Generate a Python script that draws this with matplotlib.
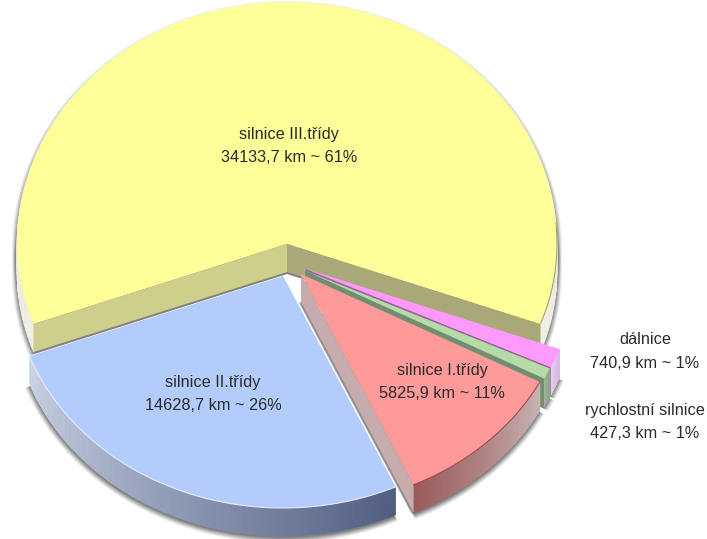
import numpy as np
import matplotlib
matplotlib.use("Agg")
import matplotlib.pyplot as plt
from matplotlib.collections import PolyCollection
from matplotlib.colors import to_rgb

# data, clockwise from the right end of the yellow slice
names = ["dálnice", "rychlostní silnice", "silnice I.třídy", "silnice II.třídy", "silnice III.třídy"]
km = [740.9, 427.3, 5825.9, 14628.7, 34133.7]
km_text = ["740,9", "427,3", "5825,9", "14628,7", "34133,7"]
pct = [1, 1, 11, 26, 61]

# look of the pie, in image pixels
RX, RY_BACK, RY_FRONT, DEPTH = 270, 242, 232, 28
START = -20.2
apex = [(306, 269), (305, 270.5), (301, 274), (283, 276), (287, 244)]
top_col = ["#ff99ff", "#b5dba6", "#ff9a9a", "#b4ccfc", "#ffff99"]
cut_col = ["#a060a0", "#6f8f70", "#c6acac", "#8090b0", "#a9a878"]
# wall gradient along the arc, lowest angle first
wall_col = [("#e8d0f0", "#d8b8e0"), ("#a0b8a0", "#88a888"), ("#9c5a5a", "#c8b4b4"),
            ("#ccd4e6", "#505e82"), ("#f0f0e4", "#f0f0e4")]
label_pos = [(645, 340), (645, 411), (442, 370), (213, 383), (289, 134)]
LINE_GAP = 23

# slice angles
sweeps = np.array(km) / sum(km) * 360
ends = START - np.concatenate(([0], np.cumsum(sweeps)[:-1]))
starts = ends - sweeps


def on_rim(i, angle, dy=0, grow=0):
    t = np.radians(angle)
    ry = np.where(np.sin(t) > 0, RY_BACK, RY_FRONT)
    x = apex[i][0] + (RX + grow) * np.cos(t)
    y = apex[i][1] + dy - (ry + grow) * np.sin(t)
    return np.column_stack([x, y])


def rim(i, a0, a1, dy=0, grow=0, n=200):
    return on_rim(i, np.linspace(a0, a1, n), dy, grow)


def slice_poly(i, dy=0, grow=0):
    pts = rim(i, starts[i], ends[i], dy, grow)
    return np.vstack([[apex[i][0], apex[i][1] + dy], pts])


def draw_wall(ax, i, z):
    # outer wall as thin quads so it can shade along the arc
    pts = rim(i, starts[i], ends[i], n=160)
    c0, c1 = np.array(to_rgb(wall_col[i][0])), np.array(to_rgb(wall_col[i][1]))
    polys, cols = [], []
    for k in range(len(pts) - 1):
        p, q = pts[k], pts[k + 1]
        polys.append([p, q, q + [0, DEPTH], p + [0, DEPTH]])
        cols.append(c0 + (c1 - c0) * k / (len(pts) - 2))
    ax.add_collection(PolyCollection(polys, facecolors=cols, edgecolors=cols, linewidths=0.5, zorder=z))


def draw_cut(ax, i, angle, color, z):
    # flat cut face from the apex to the rim
    ex, ey = on_rim(i, np.array([angle]))[0]
    ax0, ay0 = apex[i]
    ax.fill([ax0, ex, ex, ax0], [ay0, ey, ey + DEPTH, ay0 + DEPTH], color=color, lw=0, zorder=z)


fig = plt.figure(figsize=(7.07, 5.39), dpi=100)
ax = fig.add_axes([0, 0, 1, 1])
ax.set_xlim(0, 707)
ax.set_ylim(539, 0)
ax.axis("off")

# soft shadow
for grow, alpha in [(5, 0.07), (4, 0.10), (3, 0.13), (2, 0.16), (1, 0.18), (0, 0.20)]:
    for i in range(5):
        p = slice_poly(i, dy=DEPTH + 2, grow=grow)
        ax.fill(p[:, 0], p[:, 1], color="#303030", alpha=alpha, lw=0, zorder=1)
    p = slice_poly(4, dy=4, grow=grow)
    ax.fill(p[:, 0], p[:, 1], color="#303030", alpha=alpha, lw=0, zorder=1)

# yellow first, it lies behind all the others
draw_wall(ax, 4, 2)
draw_cut(ax, 4, starts[4], "#a9a878", 3)
draw_cut(ax, 4, ends[4], "#cfcf8c", 3)
p = slice_poly(4)
ax.fill(p[:, 0], p[:, 1], color=top_col[4], lw=0, zorder=4)
r = rim(4, -20, 5)
ax.plot(r[:, 0], r[:, 1], color="#9a9a60", lw=0.7, zorder=4)

z = 5
for i in [0, 1, 3, 2]:
    draw_wall(ax, i, z)
    if i != 3:
        draw_cut(ax, i, starts[i], cut_col[i], z)
    p = slice_poly(i)
    ax.fill(p[:, 0], p[:, 1], color=top_col[i], lw=0, zorder=z + 1)
    z += 2

# grey edge below the red cut face, closes the gap to the blue slice
e = on_rim(2, np.array([starts[2]]))[0]
ax.plot([apex[2][0], e[0]], [apex[2][1] + DEPTH, e[1] + DEPTH], color="#8a8a8a", lw=3,
        alpha=0.8, zorder=8.5, solid_capstyle="butt")

r = rim(2, starts[2], ends[2])
ax.plot(r[:, 0], r[:, 1], color="#a04a4a", lw=0.8, zorder=z)
r = rim(3, starts[3], ends[3])
ax.plot(r[:, 0], r[:, 1], color="#e4ecff", lw=0.8, zorder=z)

for i in range(5):
    x, y = label_pos[i]
    ax.text(x, y, names[i], ha="center", va="center", fontsize=11.7,
            family="Liberation Sans", color="#2a2a2a", zorder=30)
    ax.text(x, y + LINE_GAP, f"{km_text[i]} km ~ {pct[i]}%", ha="center", va="center",
            fontsize=11.7, family="Liberation Sans", color="#2a2a2a", zorder=30)

fig.savefig("out.png", dpi=100)
